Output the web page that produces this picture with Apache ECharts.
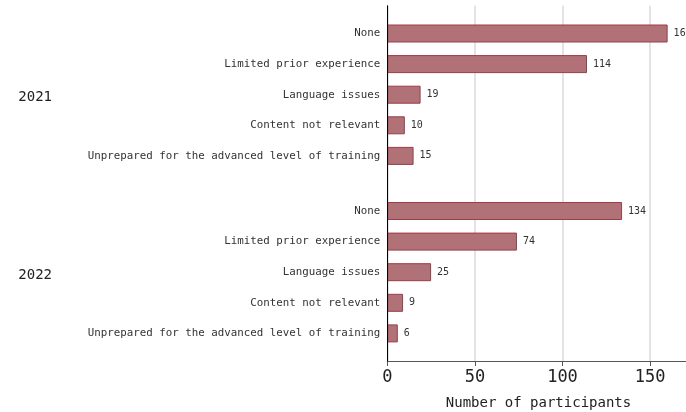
<!DOCTYPE html>
<html>
<head>
<meta charset="utf-8">
<script src="https://cdn.jsdelivr.net/npm/echarts@6/dist/echarts.min.js"></script>
<style>html,body{margin:0;padding:0;background:#fff}#c{width:686px;height:412px}</style>
</head>
<body>
<div id="c"></div>
<script>
const categories = ['None', 'Limited prior experience', 'Language issues', 'Content not relevant', 'Unprepared for the advanced level of training'];
const groups = ['2021', '2022'];
const values2021 = [160, 114, 19, 10, 15];
const values2022 = [134, 74, 25, 9, 6];
const xTicks = { min: 0, max: 200, interval: 50 };

const mono = 'DejaVu Sans Mono';
const L = 387.3, W = 350.4;
const chart = echarts.init(document.getElementById('c'), null, { renderer: 'canvas' });

function hiddenX(gi) {
  return { gridIndex: gi, type: 'value', min: xTicks.min, max: xTicks.max, interval: xTicks.interval, show: false };
}
function catY(gi, name) {
  return {
    gridIndex: gi, type: 'category', data: categories, inverse: true,
    axisLine: { show: false }, axisTick: { show: false },
    axisLabel: { fontFamily: mono, fontSize: 10.8, color: '#333', margin: 7 },
    name: '{g|' + name + '}', nameLocation: 'middle', nameRotate: 0, nameGap: 369,
    nameTextStyle: {
      align: 'left',
      rich: { g: { fontFamily: mono, fontSize: 14, color: '#222', padding: [6, 0, 0, 0] } }
    }
  };
}
function barSeries(gi, vals) {
  return {
    type: 'bar', xAxisIndex: gi, yAxisIndex: gi, data: vals, barWidth: 18,
    itemStyle: { color: '#b07276', borderColor: '#9c3c48', borderWidth: 1 },
    label: { show: true, position: 'right', distance: 6, fontFamily: mono, fontSize: 10, color: '#333' },
    z: 3
  };
}

chart.setOption({
  animation: false,
  grid: [
    { left: L, top: 5.7, width: W, height: 355.3, outerBoundsMode: 'none', containLabel: false },
    { left: L, top: 18.2, width: W, height: 153, outerBoundsMode: 'none', containLabel: false },
    { left: L, top: 195.7, width: W, height: 153, outerBoundsMode: 'none', containLabel: false }
  ],
  xAxis: [
    {
      gridIndex: 0, type: 'value', min: xTicks.min, max: xTicks.max, interval: xTicks.interval,
      axisLine: { show: true, lineStyle: { color: '#555', width: 1 } },
      axisTick: { show: true, length: 5, lineStyle: { color: '#555' } },
      axisLabel: { fontFamily: mono, fontSize: 17, color: '#222', margin: 8 },
      splitLine: { show: true, lineStyle: { color: '#e3e3e3', width: 2 } },
      name: 'Number of participants', nameLocation: 'middle', nameGap: 35,
      nameTextStyle: { fontFamily: mono, fontSize: 14, color: '#222', padding: [0, 48, 0, 0] }
    },
    hiddenX(1), hiddenX(2)
  ],
  yAxis: [
    { gridIndex: 0, type: 'category', data: [''], axisLine: { show: true, lineStyle: { color: '#000', width: 1 } }, axisTick: { show: false }, axisLabel: { show: false }, z: 5 },
    catY(1, groups[0]),
    catY(2, groups[1])
  ],
  series: [barSeries(1, values2021), barSeries(2, values2022)]
});
</script>
</body>
</html>
